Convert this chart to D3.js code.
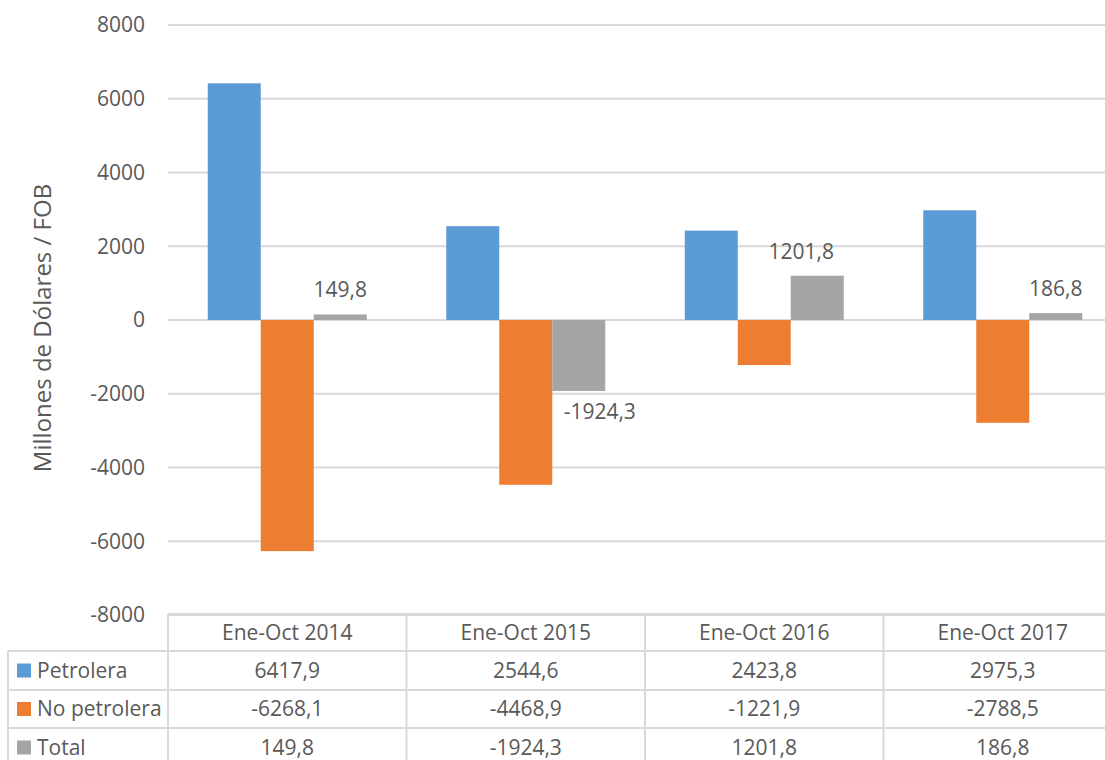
<!DOCTYPE html>
<html>
<head>
<meta charset="utf-8">
<script src="https://cdn.jsdelivr.net/npm/d3@7"></script>
<style>
  html, body { margin: 0; padding: 0; background: #fff; }
  svg text { font-family: "Open Sans", "Noto Sans", sans-serif; fill: #595959; }
</style>
</head>
<body>
<svg id="chart" width="1105" height="760"></svg>
<script>
const categories = ["Ene-Oct 2014", "Ene-Oct 2015", "Ene-Oct 2016", "Ene-Oct 2017"];
const seriesNames = ["Petrolera", "No petrolera", "Total"];
const petrolera = [6417.9, 2544.6, 2423.8, 2975.3];
const noPetrolera = [-6268.1, -4468.9, -1221.9, -2788.5];
const total = [149.8, -1924.3, 1201.8, 186.8];
const yTicks = [-8000, -6000, -4000, -2000, 0, 2000, 4000, 6000, 8000];
const colors = ["#5B9BD5", "#ED7D31", "#A5A5A5"];
const yTitle = "Millones de Dólares / FOB";

const seriesValues = [petrolera, noPetrolera, total];
const fmt = v => String(v.toFixed(1)).replace(".", ",");

const svg = d3.select("#chart");
const fontSize = 21;

const x0 = d3.scaleBand().domain(categories).range([168, 1122]).padding(0);
const x1 = d3.scaleBand().domain(seriesNames).range([0, x0.bandwidth()]).paddingInner(0).paddingOuter(0.75);
const y = d3.scaleLinear().domain([-8000, 8000]).range([615, 25]);

// gridlines
svg.append("g").selectAll("line").data(yTicks).join("line")
  .attr("x1", 168).attr("x2", 1105)
  .attr("y1", d => y(d)).attr("y2", d => y(d))
  .attr("stroke", "#D9D9D9").attr("stroke-width", 2);

// y tick labels
svg.append("g").selectAll("text").data(yTicks).join("text")
  .attr("x", 145).attr("y", d => y(d)).attr("dy", "0.35em")
  .attr("text-anchor", "end").attr("font-size", fontSize)
  .text(d => d);

// y title
svg.append("text")
  .attr("transform", "translate(51,328) rotate(-90)")
  .attr("text-anchor", "middle").attr("font-size", 24)
  .text(yTitle);

// bars
const barData = [];
categories.forEach((c, i) => {
  seriesNames.forEach((s, j) => {
    barData.push({ cat: c, series: s, si: j, value: seriesValues[j][i] });
  });
});

svg.append("g").selectAll("rect").data(barData).join("rect")
  .attr("x", d => x0(d.cat) + x1(d.series))
  .attr("width", x1.bandwidth())
  .attr("y", d => y(Math.max(0, d.value)))
  .attr("height", d => Math.abs(y(d.value) - y(0)))
  .attr("fill", d => colors[d.si]);

// data labels for Total
const totalData = barData.filter(d => d.si === 2);
svg.append("g").selectAll("text").data(totalData).join("text")
  .attr("x", d => x0(d.cat) + x1(d.series) + x1.bandwidth() / 2 + (d.value < 0 ? 21 : (d.value > 1000 ? -16 : 0)))
  .attr("y", d => d.value >= 0 ? y(d.value) - 17 : y(d.value) + 28)
  .attr("text-anchor", "middle").attr("font-size", fontSize)
  .text(d => fmt(d.value));

// data table
const tableG = svg.append("g");
const rowYs = [614, 651, 690, 728, 767];
const lineColor = "#D9D9D9";
tableG.append("line").attr("x1", 168).attr("x2", 1105).attr("y1", rowYs[0]).attr("y2", rowYs[0])
  .attr("stroke", lineColor).attr("stroke-width", 2);
rowYs.slice(1).forEach(yy => {
  tableG.append("line").attr("x1", 8).attr("x2", 1105).attr("y1", yy).attr("y2", yy)
    .attr("stroke", lineColor).attr("stroke-width", 2);
});
tableG.append("line").attr("x1", 8).attr("x2", 8).attr("y1", rowYs[1]).attr("y2", 767)
  .attr("stroke", lineColor).attr("stroke-width", 2);
categories.forEach(c => {
  tableG.append("line").attr("x1", x0(c)).attr("x2", x0(c)).attr("y1", rowYs[0]).attr("y2", 767)
    .attr("stroke", lineColor).attr("stroke-width", 2);
});
tableG.append("line").attr("x1", 1122).attr("x2", 1122).attr("y1", rowYs[0]).attr("y2", 767)
  .attr("stroke", lineColor).attr("stroke-width", 2);

tableG.selectAll("text.hdr").data(categories).join("text").attr("class", "hdr")
  .attr("x", d => x0(d) + x0.bandwidth() / 2)
  .attr("y", (rowYs[0] + rowYs[1]) / 2).attr("dy", "0.35em")
  .attr("text-anchor", "middle").attr("font-size", fontSize)
  .text(d => d);

seriesNames.forEach((s, j) => {
  const top = rowYs[j + 1], bot = rowYs[j + 2];
  const cy = (top + bot) / 2;
  tableG.append("rect").attr("x", 17).attr("y", cy - 7).attr("width", 14).attr("height", 14)
    .attr("fill", colors[j]);
  tableG.append("text").attr("x", 37).attr("y", cy).attr("dy", "0.35em")
    .attr("font-size", fontSize).text(s);
  tableG.selectAll("text.v" + j).data(seriesValues[j]).join("text").attr("class", "v" + j)
    .attr("x", (d, i) => x0(categories[i]) + x0.bandwidth() / 2)
    .attr("y", cy).attr("dy", "0.35em")
    .attr("text-anchor", "middle").attr("font-size", fontSize)
    .text(d => fmt(d));
});
</script>
</body>
</html>
